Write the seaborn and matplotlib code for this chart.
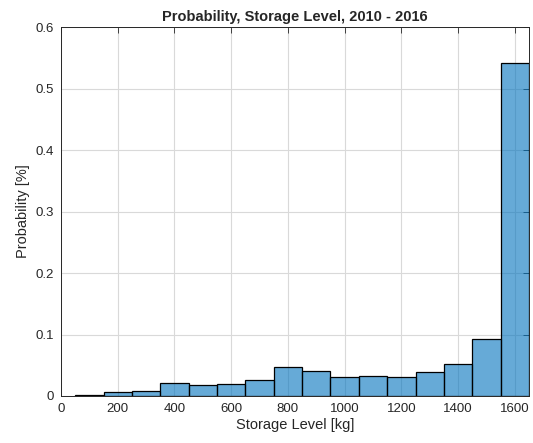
import numpy as np
import pandas as pd
import matplotlib
matplotlib.use("Agg")
import matplotlib.pyplot as plt
import seaborn as sns

# Histogram bin edges (kg) and probability per bin
bin_edges = [50, 150, 250, 350, 450, 550, 650, 750, 850, 950, 1050,
             1150, 1250, 1350, 1450, 1550, 1650]
probabilities = [0.001, 0.006, 0.008, 0.021, 0.018, 0.019, 0.026, 0.047,
                 0.041, 0.031, 0.033, 0.031, 0.039, 0.0515, 0.093, 0.542]
x_ticks = [0, 200, 400, 600, 800, 1000, 1200, 1400, 1600]
y_ticks = [0, 0.1, 0.2, 0.3, 0.4, 0.5, 0.6]
y_tick_labels = ["0", "0.1", "0.2", "0.3", "0.4", "0.5", "0.6"]

centers = [(a + b) / 2 for a, b in zip(bin_edges[:-1], bin_edges[1:])]
df = pd.DataFrame({"level": centers, "prob": probabilities})

sns.set_style("white")
plt.rcParams["font.family"] = ["Liberation Sans", "DejaVu Sans"]

fig = plt.figure(figsize=(5.33, 4.43), dpi=100)
ax = fig.add_axes([0.1144, 0.1061, 0.8781, 0.8329])

# grid drawn first so it shows through the translucent bars
ax.set_axisbelow(True)
ax.grid(True, color="#d9d9d9", linewidth=0.8)

sns.histplot(data=df, x="level", weights="prob", bins=bin_edges,
             stat="count", color="#0072BD", alpha=0.6,
             edgecolor="black", linewidth=0.9, ax=ax)

ax.set_xlim(0, 1650)
ax.set_ylim(0, 0.6)
ax.set_xticks(x_ticks)
ax.set_yticks(y_ticks)
ax.set_yticklabels(y_tick_labels)
ax.tick_params(direction="in", length=4, width=0.6, top=True, right=True,
               labelsize=9.5, colors="#262626", pad=5)
for s in ax.spines.values():
    s.set_color("#262626")
    s.set_linewidth(0.7)

ax.set_xlabel("Storage Level [kg]", fontsize=10.5, color="#262626", labelpad=2)
ax.set_ylabel("Probability [%]", fontsize=10.5, color="#262626", labelpad=4)
ax.set_title("Probability, Storage Level, 2010 - 2016", fontsize=10.5,
             fontweight="bold", pad=4)

fig.savefig("out.png", dpi=100)
